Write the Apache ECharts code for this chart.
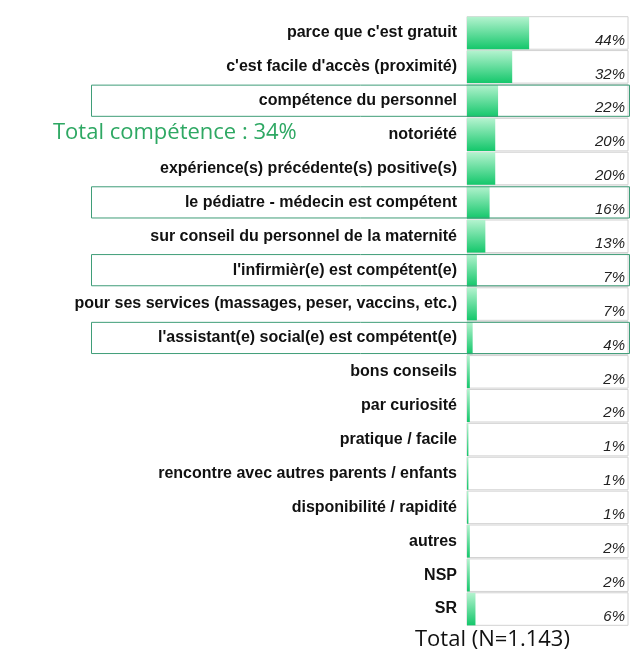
<!DOCTYPE html>
<html>
<head>
<meta charset="utf-8">
<script src="https://cdn.jsdelivr.net/npm/echarts@6/dist/echarts.min.js"></script>
<style>
  html, body { margin: 0; padding: 0; background: #fff; }
  #chart { width: 635px; height: 668px; }
</style>
</head>
<body>
<div id="chart"></div>
<script>
// raisons (ordre d'affichage, de haut en bas)
const categories = [
  "parce que c'est gratuit",
  "c'est facile d'accès (proximité)",
  "compétence du personnel",
  "notoriété",
  "expérience(s) précédente(s) positive(s)",
  "le pédiatre - médecin est compétent",
  "sur conseil du personnel de la maternité",
  "l'infirmièr(e) est compétent(e)",
  "pour ses services (massages, peser, vaccins, etc.)",
  "l'assistant(e) social(e) est compétent(e)",
  "bons conseils",
  "par curiosité",
  "pratique / facile",
  "rencontre avec autres parents / enfants",
  "disponibilité / rapidité",
  "autres",
  "NSP",
  "SR"
];
const values = [44, 32, 22, 20, 20, 16, 13, 7, 7, 4, 2, 2, 1, 1, 1, 2, 2, 6];
const percentLabels = values.map(v => v + '%');
// lignes "compétence" encadrées en vert
const competence = [0, 0, 1, 0, 0, 1, 0, 1, 0, 1, 0, 0, 0, 0, 0, 0, 0, 0];
const totalCompetence = 'Total compétence : 34%';
const totalN = 'Total (N=1.143)';

const labelFont = "'Liberation Sans', Arial, sans-serif";

const chart = echarts.init(document.getElementById('chart'));

const barGradient = new echarts.graphic.LinearGradient(0, 0, 0, 1, [
  { offset: 0, color: '#b4f3cf' },
  { offset: 1, color: '#14c76b' }
]);

const option = {
  backgroundColor: '#fff',
  animation: false,
  title: [
    {
      text: totalCompetence,
      left: 48, top: 117,
      textStyle: { color: '#2ea863', fontSize: 22, fontWeight: 'normal', fontFamily: 'Open Sans' }
    },
    {
      text: totalN,
      left: 410, top: 624,
      textStyle: { color: '#111', fontSize: 22, fontWeight: 'normal', fontFamily: 'Open Sans' }
    }
  ],
  grid: [
    { left: 91, right: 5, top: 16, bottom: 42 },   // encadrés
    { left: 467, right: 7, top: 16, bottom: 42 }   // barres
  ],
  xAxis: [
    { gridIndex: 0, type: 'value', min: 0, max: 1, show: false },
    { gridIndex: 1, type: 'value', min: 0, max: 114, show: false }
  ],
  yAxis: [
    { gridIndex: 0, type: 'category', data: categories, inverse: true, show: false },
    {
      gridIndex: 1, type: 'category', data: categories, inverse: true,
      axisLine: { show: false }, axisTick: { show: false },
      axisLabel: {
        color: '#111', fontSize: 16, fontWeight: 'bold',
        fontFamily: labelFont, margin: 10
      }
    },
    {
      gridIndex: 1, type: 'category', data: percentLabels, inverse: true,
      position: 'right', z: 10,
      axisLine: { show: false }, axisTick: { show: false },
      axisLabel: {
        inside: true, margin: 3, color: '#222', fontSize: 15,
        fontStyle: 'italic', fontFamily: labelFont,
        verticalAlign: 'top'
      }
    }
  ],
  series: [
    {
      type: 'bar',
      xAxisIndex: 1, yAxisIndex: 1,
      data: values,
      barCategoryGap: '4%',
      itemStyle: { color: barGradient },
      showBackground: true,
      backgroundStyle: { color: '#fff', borderColor: '#d2d2d2', borderWidth: 1 },
      z: 2
    },
    {
      type: 'bar',
      xAxisIndex: 0, yAxisIndex: 0,
      data: competence.map(c => c ? 1 : '-'),
      barWidth: '95%',
      itemStyle: { color: 'rgba(0,0,0,0)', borderColor: '#3f9d78', borderWidth: 1 },
      silent: true,
      z: 3
    }
  ]
};

chart.setOption(option);
</script>
</body>
</html>
